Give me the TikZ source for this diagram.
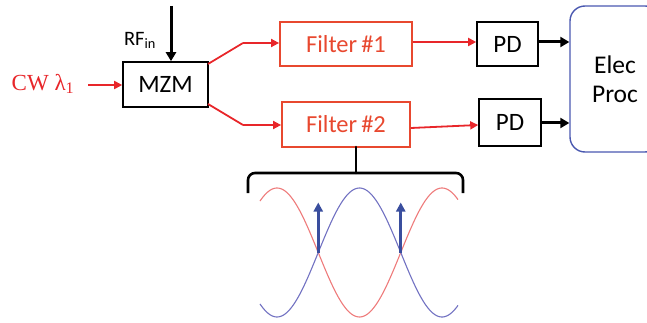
\documentclass[tikz,border=0pt]{standalone}
\usepackage{fontspec}
\setmainfont{Carlito}
\newfontfamily\timesf{Liberation Serif}
\usetikzlibrary{arrows.meta}
\definecolor{myred}{HTML}{E8262A}
\definecolor{filtred}{HTML}{E8482F}
\definecolor{procblue}{HTML}{4A58B0}
\definecolor{curvered}{HTML}{EE7B7B}
\definecolor{curveblue}{HTML}{7272C2}
\definecolor{arrblue}{HTML}{3A4E9E}
\tikzset{
  blackbox/.style={draw=black, line width=1.6pt, inner sep=0pt, font=\fontsize{25}{28}\selectfont},
  filterbox/.style={draw=filtred, line width=1.8pt, inner sep=0pt, text=filtred, font=\fontsize{24.5}{28}\selectfont},
  redarrow/.style={draw=myred, line width=1.8pt, -{Triangle[length=8pt,width=8pt]}},
  redline/.style={draw=myred, line width=1.8pt},
  blackarrow/.style={draw=black, line width=3pt, -{Triangle[length=9pt,width=10pt]}},
  bluearrow/.style={draw=arrblue, line width=2.6pt, -{Triangle[length=9pt,width=9pt]}},
}
\begin{document}
\begin{tikzpicture}[x=1pt,y=-1pt]
\useasboundingbox (0,0) rectangle (647,323);
% nodes
\node[blackbox, minimum width=85pt, minimum height=45pt] (mzm) at (165.5,84.5) {MZM};
\node[filterbox, minimum width=132pt, minimum height=44pt] (f1) at (346,44) {Filter\,\#1};
\node[filterbox, minimum width=128pt, minimum height=45pt] (f2) at (346,124.5) {Filter\,\#2};
\node[blackbox, minimum width=61pt, minimum height=44pt] (pd1) at (507.5,44) {PD};
\node[blackbox, minimum width=62pt, minimum height=47pt] (pd2) at (510,122.5) {PD};
\begin{scope}
\clip (0,0) rectangle (647,323);
\node[draw=procblue, line width=1.4pt, rounded corners=15pt, minimum width=90pt, minimum height=146pt, inner sep=0pt,
  align=center, font=\fontsize{25.5}{30}\selectfont] (proc) at (615,79) {Elec\\[-1pt]Proc};
\end{scope}
\node[text=myred, font=\timesf\fontsize{23}{26}\selectfont, inner sep=0pt] (cw) at (43,84) {CW λ\textsubscript{1}};
\node[font=\fontsize{20.5}{22}\selectfont, inner sep=0pt] (rflab) at (140,40) {RF\textsubscript{in}};
% coordinates
\coordinate (cwend) at (88,85);
\coordinate (rf) at (171,6);
\coordinate (s1a) at (208,64);
\coordinate (s1) at (243,43);
\coordinate (s2a) at (208,104);
\coordinate (s2) at (243,125);
% connectors
\draw[redarrow] (cwend) -- (mzm.west |- cwend);
\draw[blackarrow] (rf) -- (rf |- mzm.north);
\draw[redline] (s1a) -- (s1);
\draw[redarrow] (s1) -- (f1.west |- s1);
\draw[redline] (s2a) -- (s2);
\draw[redarrow] (s2) -- (f2.west |- s2);
\draw[redarrow] (f1.east |- 0,42) -- (pd1.west |- 0,42);
\draw[redarrow] (f2.east |- 0,128) -- (pd2.west |- 0,125);
\draw[blackarrow] (pd1.east |- 0,42) -- (proc.west |- 0,42);
\draw[blackarrow] (pd2.east |- 0,123) -- (proc.west |- 0,123);
% brace
\coordinate (stem) at (356,147);
\coordinate (bc) at (356,173);
\draw[line width=2.6pt, line cap=round] (stem) -- (bc);
\draw[line width=2.6pt, rounded corners=7pt] (248,193) -- (248,173) -- (bc) -- (463,173) -- (463,193);
% curves
\draw[curvered, line width=1.1pt] plot[domain=260:458, samples=120, smooth] (\x, {252.5 - 64.5*cos(2.181818*(\x-277))});
\draw[curveblue, line width=1.1pt] plot[domain=260:458, samples=120, smooth] (\x, {252.5 + 64.5*cos(2.181818*(\x-277))});
\coordinate (x1) at (318.25,252.5);
\coordinate (x2) at (400.75,252.5);
\draw[bluearrow] (x1) -- ++(0,-50);
\draw[bluearrow] (x2) -- ++(0,-50);
\end{tikzpicture}
\end{document}
